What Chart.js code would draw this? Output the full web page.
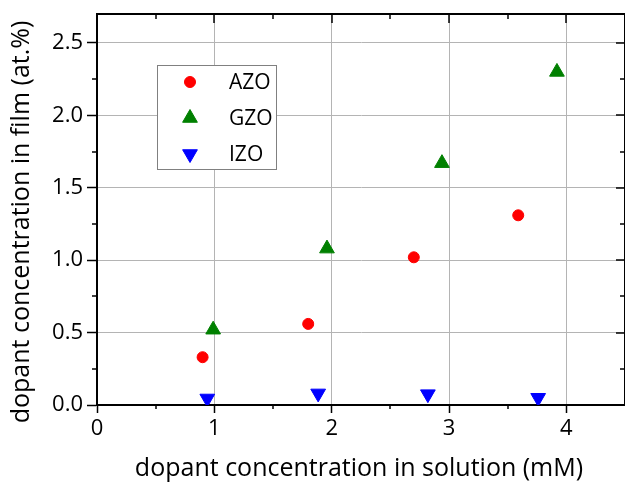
<!DOCTYPE html>
<html>
<head>
<meta charset="utf-8">
<script src="https://cdn.jsdelivr.net/npm/chart.js@4.4.0/dist/chart.umd.min.js"></script>
<style>
html,body{margin:0;padding:0;background:#fff;overflow:hidden;}
#wrap{width:625px;height:482px;overflow:hidden;position:relative;}
canvas{display:block;}
</style>
</head>
<body>
<div id="wrap"><canvas id="c" width="625" height="482"></canvas></div>
<script>
// ---- data ----
const seriesNames = ["AZO", "GZO", "IZO"];
const azoX = [0.90, 1.80, 2.70, 3.59];
const azoY = [0.33, 0.56, 1.02, 1.31];
const gzoX = [0.99, 1.96, 2.94, 3.92];
const gzoY = [0.52, 1.08, 1.67, 2.30];
const izoX = [0.94, 1.885, 2.82, 3.76];
const izoY = [0.045, 0.08, 0.075, 0.05];
const xTickValues = [0, 1, 2, 3, 4];
const yTickValues = [0, 0.5, 1.0, 1.5, 2.0, 2.5];
const xMinorValues = [0.5, 1.5, 2.5, 3.5];
const yMinorValues = [0.25, 0.75, 1.25, 1.75, 2.25];
const xTitle = "dopant concentration in solution (mM)";
const yTitle = "dopant concentration in film (at.%)";

const FONT = "'Open Sans', 'DejaVu Sans', sans-serif";
const toPts = (xs, ys) => xs.map((x, i) => ({x: x, y: ys[i]}));

const styles = [
  {color: '#ff0000', pointStyle: 'circle', radius: 5.5, rotation: 0},
  {color: '#008000', pointStyle: 'triangle', radius: 8.5, rotation: 0},
  {color: '#0000ff', pointStyle: 'triangle', radius: 8.5, rotation: 180}
];
const allData = [toPts(azoX, azoY), toPts(gzoX, gzoY), toPts(izoX, izoY)];

const datasets = seriesNames.map((n, i) => ({
  label: n,
  data: allData[i],
  backgroundColor: styles[i].color,
  borderColor: styles[i].color,
  borderWidth: 1,
  pointStyle: styles[i].pointStyle,
  pointRadius: styles[i].radius,
  pointHoverRadius: styles[i].radius,
  rotation: styles[i].rotation,
  showLine: false
}));

const extras = {
  id: 'extras',
  afterDraw(chart) {
    const ctx = chart.ctx;
    const xs = chart.scales.x, ys = chart.scales.y;
    const a = chart.chartArea;
    ctx.save();
    ctx.strokeStyle = '#000';
    ctx.lineWidth = 2;
    // frame top and right
    ctx.beginPath();
    ctx.moveTo(a.left, a.top); ctx.lineTo(a.right, a.top); ctx.lineTo(a.right, a.bottom);
    ctx.stroke();
    ctx.lineWidth = 1.5;
    ctx.beginPath();
    // minor ticks
    xMinorValues.forEach(v => { const p = Math.round(xs.getPixelForValue(v)); ctx.moveTo(p, a.bottom); ctx.lineTo(p, a.bottom + 4); ctx.moveTo(p, a.top); ctx.lineTo(p, a.top + 5); });
    yMinorValues.forEach(v => { const p = Math.round(ys.getPixelForValue(v)); ctx.moveTo(a.left, p); ctx.lineTo(a.left - 5, p); ctx.moveTo(a.right, p); ctx.lineTo(a.right - 5, p); });
    // major ticks inward on top / right
    xTickValues.forEach(v => { const p = Math.round(xs.getPixelForValue(v)); ctx.moveTo(p, a.top); ctx.lineTo(p, a.top + 9); });
    yTickValues.forEach(v => { const p = Math.round(ys.getPixelForValue(v)); ctx.moveTo(a.right, p); ctx.lineTo(a.right - 9, p); });
    ctx.stroke();

    // legend box
    const bx = 157, by = 65, bw = 119, bh = 104;
    ctx.fillStyle = '#fff';
    ctx.fillRect(bx, by, bw, bh);
    ctx.strokeStyle = '#808080';
    ctx.lineWidth = 1;
    ctx.strokeRect(bx + 0.5, by + 0.5, bw, bh);
    const rowY = [82, 118, 154];
    chart.data.datasets.forEach((ds, i) => {
      ctx.fillStyle = ds.backgroundColor;
      ctx.strokeStyle = ds.borderColor;
      ctx.lineWidth = 1;
      Chart.helpers.drawPoint(ctx, {pointStyle: ds.pointStyle, radius: ds.pointRadius, rotation: ds.rotation, borderWidth: 1}, 190, rowY[i]);
      ctx.fillStyle = '#000';
      ctx.font = "21px " + FONT;
      ctx.textBaseline = 'middle';
      ctx.textAlign = 'left';
      ctx.fillText(ds.label, 229, rowY[i] + 1);
    });

    // axis titles
    ctx.fillStyle = '#000';
    ctx.font = "25px " + FONT;
    ctx.textAlign = 'center';
    ctx.textBaseline = 'alphabetic';
    ctx.fillText(xTitle, 359, 476);
    ctx.save();
    ctx.translate(29, 222);
    ctx.rotate(-Math.PI / 2);
    ctx.fillText(yTitle, 0, 0);
    ctx.restore();
    ctx.restore();
  }
};

new Chart(document.getElementById('c'), {
  type: 'scatter',
  data: {datasets: datasets},
  options: {
    responsive: false,
    animation: false,
    events: [],
    layout: {autoPadding: false, padding: {top: 14, right: -2, left: 0, bottom: 0}},
    plugins: {legend: {display: false}, tooltip: {enabled: false}},
    scales: {
      x: {
        type: 'linear', min: 0, max: 4.5,
        afterBuildTicks: s => { s.ticks = xTickValues.map(v => ({value: v})); },
        afterFit: s => { s.height = 77; s.paddingLeft = 0; s.paddingRight = 0; },
        ticks: {font: {size: 22, family: FONT}, color: '#000', padding: 3, maxRotation: 0,
                callback: v => String(v)},
        grid: {color: '#b4b4b4', lineWidth: 1, tickColor: '#000', tickLength: 8, tickWidth: 1.5},
        border: {color: '#000', width: 2}
      },
      y: {
        type: 'linear', min: 0, max: 2.7,
        afterBuildTicks: s => { s.ticks = yTickValues.map(v => ({value: v})); },
        afterFit: s => { s.width = 97; s.paddingTop = 0; s.paddingBottom = 0; },
        ticks: {font: {size: 22, family: FONT}, color: '#000', padding: 4,
                callback: v => Number(v).toFixed(1)},
        grid: {color: '#b4b4b4', lineWidth: 1, tickColor: '#000', tickLength: 10, tickWidth: 1.5},
        border: {color: '#000', width: 2}
      }
    }
  },
  plugins: [extras]
});
</script>
</body>
</html>
